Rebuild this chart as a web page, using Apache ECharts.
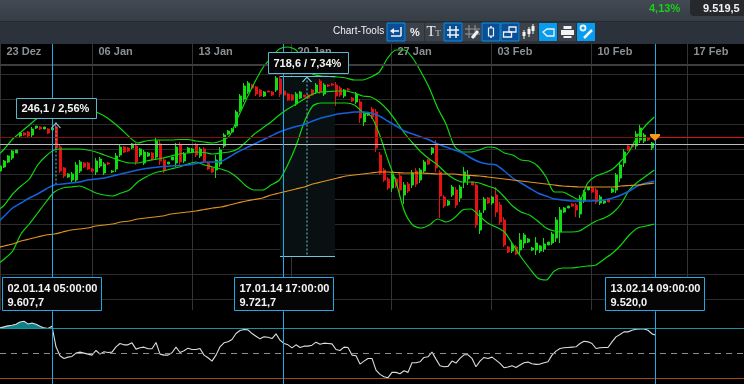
<!DOCTYPE html>
<html>
<head>
<meta charset="utf-8">
<style>html,body{margin:0;padding:0;background:#000}#main{width:744px;height:384px}</style>
<script src="https://cdn.jsdelivr.net/npm/echarts@6/dist/echarts.min.js"></script>
</head>
<body>
<div id="main"></div>
<script>
// x axis unit: trading days from the left edge of the window
const barDays = 0.2;
const lineStartDay = -0.2;
const lineStepDays = 5 / 12;
const weekDays = [0.025, 4.625, 9.625, 14.575, 19.575, 24.575, 29.575, 34.375];
const weekLabels = ['23 Dez', '06 Jan', '13 Jan', '20 Jan', '27 Jan', '03 Feb', '10 Feb', '17 Feb'];
const gridPrices = [8900, 9000, 9100, 9200, 9300, 9400, 9500, 9600, 9700, 9800];
const cursorDays = [2.6, 14.15, 32.75];

const opens = [9414,9430,9450,9466,9486,9554,9566,9570,9558,9586,
  9590,9582,9582,9578,9590,9510,9426,9390,9378,9378,
  9414,9446,9446,9422,9410,9434,9406,9446,9410,9422,
  9478,9510,9506,9506,9514,9478,9446,9474,9486,9470,
  9522,9458,9442,9458,9446,9518,9454,9490,9490,9518,
  9474,9502,9446,9426,9418,9442,9514,9562,9570,9594,
  9658,9702,9730,9758,9750,9738,9714,9734,9730,9738,
  9782,9734,9722,9718,9682,9706,9718,9718,9738,9730,
  9774,9722,9758,9762,9758,9746,9714,9742,9706,9690,
  9690,9610,9638,9662,9650,9478,9418,9382,9346,9382,
  9394,9318,9362,9358,9414,9378,9414,9458,9486,9518,
  9410,9310,9278,9318,9338,9306,9370,9382,9370,9358,
  9178,9258,9306,9286,9318,9278,9218,9110,9094,9110,
  9098,9126,9130,9098,9098,9094,9102,9118,9126,9146,
  9170,9250,9266,9282,9278,9242,9294,9338,9346,9338,
  9286,9286,9302,9330,9338,9386,9446,9514,9518,9514,
  9538,9534,9546,9506];
const closes = [9434,9454,9474,9494,9498,9566,9558,9554,9582,9594,
  9582,9590,9566,9586,9506,9414,9394,9402,9402,9438,
  9450,9430,9422,9414,9454,9462,9442,9442,9414,9474,
  9510,9490,9494,9522,9450,9502,9490,9486,9462,9534,
  9454,9414,9450,9470,9510,9450,9482,9506,9502,9478,
  9502,9454,9422,9410,9458,9498,9558,9574,9582,9650,
  9714,9754,9766,9746,9722,9714,9730,9730,9718,9786,
  9722,9718,9698,9698,9722,9730,9710,9706,9718,9758,
  9730,9758,9754,9758,9714,9718,9738,9738,9694,9722,
  9626,9642,9646,9630,9506,9406,9378,9346,9398,9354,
  9338,9358,9334,9406,9362,9418,9450,9442,9506,9426,
  9314,9274,9294,9350,9278,9350,9410,9394,9358,9198,
  9246,9302,9286,9310,9250,9210,9118,9090,9118,9082,
  9138,9158,9142,9106,9126,9114,9122,9130,9162,9218,
  9258,9266,9274,9274,9258,9306,9330,9350,9330,9290,
  9310,9294,9290,9342,9398,9438,9490,9498,9510,9562,
  9586,9558,9538,9526];
const lows = [9410,9426,9446,9458,9486,9550,9554,9550,9550,9582,
  9578,9582,9562,9578,9498,9406,9386,9386,9370,9370,
  9406,9426,9418,9410,9398,9426,9398,9438,9406,9410,
  9470,9486,9490,9502,9438,9470,9438,9470,9458,9458,
  9438,9406,9442,9458,9430,9438,9446,9486,9486,9470,
  9466,9446,9418,9406,9386,9430,9506,9558,9566,9586,
  9650,9690,9722,9742,9714,9710,9710,9730,9714,9730,
  9710,9714,9694,9694,9674,9702,9710,9702,9714,9722,
  9722,9714,9750,9754,9674,9710,9706,9734,9690,9682,
  9606,9594,9634,9622,9490,9398,9370,9338,9330,9346,
  9310,9282,9326,9346,9350,9366,9406,9438,9478,9410,
  9226,9266,9274,9310,9266,9290,9346,9358,9358,9186,
  9162,9246,9282,9278,9230,9198,9110,9086,9086,9078,
  9078,9106,9126,9094,9078,9086,9090,9118,9118,9130,
  9126,9246,9266,9270,9230,9226,9286,9338,9326,9282,
  9278,9282,9290,9326,9326,9370,9430,9494,9506,9502,
  9526,9526,9534,9498];
const highs = [9438,9458,9478,9498,9498,9570,9570,9574,9590,9594,
  9594,9590,9586,9586,9602,9518,9430,9406,9410,9450,
  9458,9450,9450,9426,9466,9470,9450,9450,9418,9486,
  9518,9514,9510,9526,9526,9506,9498,9490,9490,9546,
  9538,9466,9450,9470,9526,9530,9490,9510,9506,9526,
  9510,9510,9450,9430,9478,9510,9566,9578,9586,9658,
  9722,9766,9774,9762,9754,9742,9734,9734,9734,9794,
  9794,9738,9726,9722,9730,9734,9718,9722,9742,9766,
  9782,9766,9762,9766,9770,9754,9742,9746,9710,9730,
  9702,9650,9650,9670,9662,9490,9426,9390,9410,9390,
  9406,9370,9370,9418,9426,9426,9458,9462,9510,9538,
  9418,9318,9298,9358,9350,9358,9430,9418,9370,9366,
  9258,9310,9310,9314,9350,9290,9230,9114,9126,9118,
  9166,9166,9146,9110,9150,9118,9146,9130,9170,9230,
  9270,9270,9274,9286,9286,9318,9338,9350,9350,9346,
  9318,9298,9302,9346,9406,9450,9502,9518,9522,9574,
  9598,9566,9550,9530];

const bandUpper = [9470,9502,9542,9570,9598,9626,9646,9658,9666,9666,
  9666,9662,9650,9634,9610,9582,9550,9526,9534,9538,
  9538,9538,9540,9540,9534,9530,9526,9534,9554,9626,
  9698,9766,9826,9866,9902,9910,9898,9850,9802,9794,
  9792,9790,9786,9778,9778,9790,9810,9866,9898,9898,
  9866,9810,9746,9666,9602,9514,9490,9490,9498,9510,
  9506,9486,9478,9458,9454,9434,9390,9330,9330,9314,
  9298,9366,9394,9406,9422,9454,9494,9554,9598,9630];
const bandMiddle = [9250,9278,9322,9354,9382,9438,9474,9498,9502,9502,
  9502,9498,9490,9478,9466,9454,9446,9446,9454,9460,
  9466,9474,9482,9486,9490,9488,9482,9486,9490,9502,
  9530,9562,9586,9610,9638,9662,9682,9702,9722,9730,
  9732,9734,9734,9726,9714,9710,9690,9658,9614,9566,
  9526,9490,9462,9438,9406,9382,9370,9370,9366,9354,
  9342,9310,9274,9250,9238,9214,9186,9174,9170,9170,
  9174,9194,9214,9226,9246,9282,9338,9370,9394,9418];
const bandLower = [9038,9062,9094,9162,9202,9246,9290,9330,9346,9350,
  9354,9342,9326,9318,9314,9326,9338,9370,9390,9406,
  9414,9422,9430,9442,9450,9438,9430,9422,9410,9386,
  9354,9338,9338,9358,9378,9438,9514,9610,9674,9686,
  9686,9686,9686,9678,9650,9634,9562,9462,9370,9254,
  9198,9186,9198,9222,9210,9226,9258,9262,9234,9206,
  9190,9170,9122,9070,9026,8986,8978,9014,9026,9026,
  9030,9034,9038,9062,9086,9118,9158,9186,9194,9202];
const maBlue = [9202,9234,9266,9286,9306,9322,9342,9358,9362,9366,
  9370,9378,9382,9386,9394,9402,9410,9418,9424,9428,
  9432,9434,9436,9438,9444,9450,9450,9452,9470,9490,
  9506,9522,9538,9554,9570,9582,9592,9600,9614,9626,
  9634,9642,9646,9650,9650,9646,9634,9614,9594,9574,
  9562,9550,9538,9522,9510,9498,9486,9466,9450,9442,
  9438,9414,9386,9366,9346,9326,9314,9302,9298,9294,
  9294,9294,9296,9298,9306,9318,9334,9354,9366,9374];
const maOrange = [9106,9114,9122,9134,9142,9150,9158,9162,9170,9178,
  9182,9186,9194,9198,9202,9210,9214,9222,9226,9230,
  9234,9242,9246,9250,9254,9260,9266,9270,9278,9286,
  9294,9300,9306,9318,9326,9334,9342,9350,9362,9370,
  9378,9386,9394,9398,9402,9406,9410,9410,9408,9406,
  9406,9406,9404,9402,9402,9402,9398,9396,9394,9390,
  9386,9382,9378,9374,9370,9366,9362,9358,9354,9352,
  9350,9350,9350,9350,9350,9354,9356,9358,9362,9366];

const oscillator = [80.4,81.6,82.8,83.6,84.8,87.6,88.4,85.2,86.4,84.8,
  82.4,80.4,79.6,82.4,57.6,46.8,43.6,45.2,46,50,
  51.2,50,48.8,47.6,53.2,48.8,51.6,50.8,51.2,57.6,
  61.6,60,60,62.4,54.8,56.4,57.2,55.2,55.2,62.8,
  48.8,47.6,47.6,50.4,57.2,50.8,52.8,56,54.4,54.4,
  55.6,47.6,44.4,40.4,47.6,57.6,62.4,63.6,66.4,73.6,
  77.2,78.4,78,73.6,70.4,67.2,69.6,69.2,67.6,73.2,
  65.6,61.6,60,56.4,60,56.8,58.4,58.4,59.6,63.2,
  60.8,62,61.6,61.2,54.4,53.2,57.2,56.8,47.6,46.8,
  36.8,40.4,43.6,43.6,29.6,24.4,21.6,20.4,26.8,26.8,
  25.2,28.8,26.8,38.4,38.4,39.6,44.8,45.6,51.2,42.8,
  34.8,33.6,34,40.4,38,43.6,48,48,43.6,33.6,
  40.4,44.8,43.6,45.2,41.6,37.6,32.4,33.2,34.8,32.8,
  35.6,38.4,39.2,37.2,36.4,36.8,38.4,39.6,47.6,52.4,
  55.6,56.4,56.8,57.2,57.6,61.6,64.4,63.6,61.6,55.6,
  56.4,56.8,56.8,63.6,69.6,72.4,75.6,75.6,77.6,78.8,
  79.2,79.2,77.6,73.2,71.6];

const oscLevels = [80, 50, 20];
const lastPrice = 9548;
const closeLine = 9522;
const topRule = 9838;
const measureLeft = { day: 2.8, top: 9607.7, bottom: 9361.6 };
const measureMid = { startDay: 14, endDay: 16.75, markDay: 15.35, top: 9792, bottom: 9073.4 };

const GREEN = '#12dc12';
const RED = '#e61212';
const CYAN = '#24a8e4';
const candleData = opens.map((o, i) => [o, closes[i], lows[i], highs[i]]);
const candleDays = opens.map((o, i) => +(i * barDays).toFixed(2));
const lineData = arr => arr.map((v, k) => [lineStartDay + k * lineStepDays, v]);
const oscData = oscillator.map((v, i) => [i * barDays, v]);
const oscAbove = oscillator.map((v, i) => [i * barDays, v > 80 ? v : null]);

function bandSeries(name, arr, color, width) {
  return {
    name: name,
    type: 'line',
    data: lineData(arr),
    smooth: 0.25,
    symbol: 'none',
    z: 4,
    lineStyle: { color: color, width: width },
    emphasis: { disabled: true }
  };
}

function cursorMarks() {
  return {
    silent: true,
    symbol: 'none',
    label: { show: false },
    lineStyle: { color: CYAN, width: 1, type: 'solid' },
    data: cursorDays.map(d => ({ xAxis: d }))
  };
}

// toolbar drawing
const btnY = 23, btnH = 18, btnW = 18;
function button(x, state) {
  const fill = { off: '#3c424a', dark: '#0a4f95', on: '#069cf0' }[state];
  const items = [{
    type: 'rect',
    shape: { x: x, y: btnY, width: btnW, height: btnH },
    style: { fill: fill, stroke: state === 'dark' ? '#0c90e0' : null, lineWidth: 1 }
  }];
  return items;
}
function wline(x1, y1, x2, y2, w) {
  return { type: 'line', shape: { x1: x1, y1: y1, x2: x2, y2: y2 }, style: { stroke: '#f2f2f2', lineWidth: w || 1.5 } };
}
function wrect(x, y, width, height, filled) {
  return { type: 'rect', shape: { x: x, y: y, width: width, height: height },
    style: filled ? { fill: '#f2f2f2' } : { fill: 'transparent', stroke: '#f2f2f2', lineWidth: 1.3 } };
}
function txt(x, y, text, font, fill, extra) {
  return { type: 'text', x: x, y: y, style: Object.assign({ text: text, font: font, fill: fill, textVerticalAlign: 'middle' }, extra || {}) };
}

const toolbar = [].concat(
  button(387, 'dark'),
  [wline(391, 36, 401, 36), wline(401, 27, 401, 36), wline(392, 31, 399, 31),
    { type: 'polygon', shape: { points: [[390, 31], [394, 28], [394, 34]] }, style: { fill: '#f2f2f2' } }],
  button(406, 'off'),
  [txt(415, 33, '%', 'bold 11px "Liberation Sans"', '#f2f2f2', { textAlign: 'center' })],
  button(425, 'off'),
  [txt(431, 32, 'T', '15px "Liberation Serif"', '#f0f0f0', { textAlign: 'center' }),
    txt(438, 34, 'T', '9px "Liberation Serif"', '#c8c8c8', { textAlign: 'center' })],
  button(444, 'dark'),
  [wline(450, 26, 450, 38), wline(456, 26, 456, 38), wline(447, 30, 459, 30), wline(447, 35, 459, 35)],
  button(463, 'off'),
  [{ type: 'line', shape: { x1: 469, y1: 25, x2: 469, y2: 38 }, style: { stroke: '#999', lineWidth: 1 } },
    { type: 'line', shape: { x1: 475, y1: 25, x2: 475, y2: 38 }, style: { stroke: '#999', lineWidth: 1 } },
    { type: 'line', shape: { x1: 465, y1: 29, x2: 480, y2: 29 }, style: { stroke: '#999', lineWidth: 1 } },
    { type: 'line', shape: { x1: 465, y1: 34, x2: 480, y2: 34 }, style: { stroke: '#999', lineWidth: 1 } },
    wline(472, 38, 478, 31, 3)],
  button(482, 'dark'),
  [wline(491, 26, 491, 38), { type: 'rect', shape: { x: 488.5, y: 28, width: 5, height: 8 }, style: { fill: '#0a4f95', stroke: '#f2f2f2', lineWidth: 1.2 } }],
  button(501, 'dark'),
  [wrect(503.5, 32, 8, 5), wrect(509, 27, 7, 5)],
  button(520, 'off'),
  [wline(524, 30, 524, 39, 1), wrect(522.5, 32, 3, 4, true), wline(529, 27, 529, 37, 1), wrect(527.5, 29, 3, 5, true), wline(533, 24, 533, 34, 1), wrect(531.5, 26, 3, 5, true)],
  button(539, 'on'),
  [{ type: 'polygon', shape: { points: [[543, 32], [547, 29], [554, 29], [554, 36], [547, 36]] }, style: { fill: 'transparent', stroke: '#f2f2f2', lineWidth: 1.3 } }],
  button(558, 'off'),
  [wrect(563.5, 26, 8, 3, true), wrect(561, 30, 13, 5, true), wrect(563.5, 36, 8, 2, true)],
  button(577, 'on'),
  [{ type: 'circle', shape: { cx: 583, cy: 28, r: 2.5 }, style: { fill: 'transparent', stroke: '#f2f2f2', lineWidth: 1.8 } },
    wline(584, 38, 592, 30, 2.5)]
);

function infoBox(x, y, w, h, stroke, lines) {
  const out = [{ type: 'rect', shape: { x: x + 0.5, y: y + 0.5, width: w, height: h }, style: { fill: '#050505', stroke: stroke, lineWidth: 1 } }];
  lines.forEach((t, i) => {
    out.push(txt(x + 5.5, y + (lines.length === 1 ? h / 2 + 1 : 11.5 + i * 14), t, 'bold 11px "Liberation Sans"', '#f4f4f4'));
  });
  return out;
}

const graphics = [].concat(
  [{ type: 'rect', shape: { x: 0, y: 0, width: 744, height: 22 },
      style: { fill: new echarts.graphic.LinearGradient(0, 0, 0, 1, [{ offset: 0, color: '#444a53' }, { offset: 1, color: '#363c44' }]) } },
    { type: 'rect', shape: { x: 0, y: 22, width: 744, height: 22 }, style: { fill: '#2c323b' } },
    { type: 'rect', shape: { x: 0, y: 21, width: 744, height: 1 }, style: { fill: '#262b32' } },
    { type: 'rect', shape: { x: 690, y: 0, width: 54, height: 16, r: [0, 0, 0, 4] }, style: { fill: '#26282b' } },
    txt(649, 9, '4,13%', 'bold 11px "Liberation Sans"', '#18d018'),
    txt(703, 9, '9.519,5', 'bold 11px "Liberation Sans"', '#f2f2f2'),
    txt(333, 31, 'Chart-Tools', '10px "Liberation Sans"', '#f2f2f2')],
  toolbar,
  infoBox(16, 98, 80, 20, '#58b8d0', ['246,1 / 2,56%']),
  infoBox(268, 52, 80, 21, '#58b8d0', ['718,6 / 7,34%']),
  infoBox(2, 277, 99, 33, CYAN, ['02.01.14 05:00:00', '9.607,7']),
  infoBox(234, 277, 99, 33, CYAN, ['17.01.14 17:00:00', '9.721,7']),
  infoBox(605, 277, 99, 33, CYAN, ['13.02.14 09:00:00', '9.520,0'])
).map(el => Object.assign({ z: 100 }, el));

const chart = echarts.init(document.getElementById('main'), null, { renderer: 'canvas' });
chart.setOption({
  animation: false,
  backgroundColor: '#000',
  grid: [
    { left: 0, right: 0, top: 44, height: 266 },
    { left: 0, right: 0, top: 311.3, height: 73 }
  ],
  xAxis: [
    {
      type: 'value', gridIndex: 0, min: 0, max: 37.2, position: 'top',
      axisLine: { show: false },
      axisTick: { show: false, customValues: weekDays },
      splitLine: { show: true, lineStyle: { color: '#343434', width: 1 } },
      axisLabel: {
        show: true, inside: true, customValues: weekDays, margin: 2,
        align: 'left', verticalAlign: 'top', padding: [0, 0, 0, 6],
        color: '#8b9095', fontFamily: 'Liberation Sans', fontWeight: 'bold', fontSize: 11,
        formatter: v => weekLabels[weekDays.indexOf(v)]
      }
    },
    { type: 'value', gridIndex: 1, min: 0, max: 37.2, show: false, splitLine: { show: false } }
  ],
  yAxis: [
    {
      type: 'value', gridIndex: 0, min: 8858, max: 9922,
      axisLine: { show: false }, axisLabel: { show: false },
      axisTick: { show: false, customValues: gridPrices },
      splitLine: { show: true, lineStyle: { color: '#2c2c2c', width: 1 } }
    },
    {
      type: 'value', gridIndex: 1, min: 12.8, max: 100.4, show: false,
      splitLine: { show: false }
    }
  ],
  graphic: { elements: graphics },
  series: [
    // reference lines and the measuring tool, below everything else
    {
      type: 'line', data: [], z: 1, silent: true,
      markArea: {
        silent: true,
        itemStyle: { color: '#081011', opacity: 1 },
        data: [[{ xAxis: measureMid.startDay, yAxis: measureMid.top }, { xAxis: measureMid.endDay, yAxis: measureMid.bottom }]]
      },
      markLine: {
        silent: true, symbol: 'none', label: { show: false }, animation: false,
        data: [
          { yAxis: topRule, lineStyle: { color: '#3e3e3e', width: 2, type: 'solid' } },
          { yAxis: closeLine, lineStyle: { color: '#bcbcbc', width: 1, type: 'solid' } },
          [{ coord: [0, lastPrice], lineStyle: { color: '#7c1212', width: 1, type: 'solid' } }, { coord: [cursorDays[2], lastPrice] }],
          [{ coord: [cursorDays[2], lastPrice], lineStyle: { color: '#e01010', width: 1, type: 'solid' } }, { coord: [37.2, lastPrice] }],
          [{ coord: [measureMid.startDay, measureMid.top], lineStyle: { color: '#6fc4d6', width: 1, type: 'solid' } }, { coord: [measureMid.endDay, measureMid.top] }],
          [{ coord: [measureMid.startDay, measureMid.bottom], lineStyle: { color: '#6fc4d6', width: 1, type: 'solid' } }, { coord: [measureMid.endDay, measureMid.bottom] }]
        ]
      }
    },
    {
      type: 'candlestick', xAxisIndex: 0, yAxisIndex: 0, z: 3,
      data: candleData.map((c, i) => [candleDays[i]].concat(c)),
      encode: { x: 0, y: [1, 2, 3, 4] },
      barWidth: 2.5,
      itemStyle: { color: GREEN, color0: RED, borderColor: GREEN, borderColor0: RED, borderWidth: 1 }
    },
    bandSeries('upper', bandUpper, '#0ed80e', 1.2),
    bandSeries('middle', bandMiddle, '#0ed80e', 1.2),
    bandSeries('lower', bandLower, '#0ed80e', 1.2),
    bandSeries('blue', maBlue, '#1262dc', 1.5),
    bandSeries('orange', maOrange, '#e09422', 1.2),
    // measuring arrows
    {
      type: 'line', z: 5, symbol: 'none', silent: true,
      data: [[measureLeft.day, measureLeft.top], [measureLeft.day, measureLeft.bottom]],
      lineStyle: { color: '#5aa9b8', width: 1.2, type: [2, 2] }
    },
    {
      type: 'line', z: 5, symbol: 'none', silent: true,
      data: [[measureMid.markDay, measureMid.top], [measureMid.markDay, measureMid.bottom]],
      lineStyle: { color: '#5aa9b8', width: 1.2, type: [2, 2] }
    },
    {
      type: 'scatter', z: 6, silent: true, symbol: 'path://M0 6L5 0L10 6', symbolSize: [9, 5],
      symbolOffset: [0, 3],
      itemStyle: { color: 'transparent', borderColor: '#7fc6d4', borderWidth: 1, opacity: 1 },
      data: [[measureLeft.day, measureLeft.top], [measureMid.markDay, measureMid.top]]
    },
    // last price flag
    {
      type: 'scatter', z: 7, silent: true, symbol: 'path://M0 0H10V2L5 7L0 2Z', symbolSize: [10, 7],
      itemStyle: { color: '#f59b1c', opacity: 1 },
      data: [[cursorDays[2], lastPrice]]
    },
    // cursor lines, one per grid
    {
      type: 'line', data: [], xAxisIndex: 0, yAxisIndex: 0, z: 6, silent: true, markLine: cursorMarks()
    },
    // oscillator
    {
      type: 'line', xAxisIndex: 1, yAxisIndex: 1, z: 2, symbol: 'none', data: oscAbove, connectNulls: false,
      lineStyle: { width: 0 }, areaStyle: { color: '#0f8088', origin: 80, opacity: 1 }
    },
    {
      type: 'line', xAxisIndex: 1, yAxisIndex: 1, z: 3, symbol: 'none', data: oscData,
      lineStyle: { color: '#dcdcdc', width: 1.1 },
      markLine: {
        silent: true, symbol: 'none', label: { show: false },
        data: [
          { yAxis: oscLevels[0], lineStyle: { color: '#11959e', width: 1, type: 'solid' } },
          { yAxis: oscLevels[1], lineStyle: { color: '#8c8c8c', width: 1, type: [6, 5] } },
          { yAxis: oscLevels[2], lineStyle: { color: '#a04a12', width: 1, type: 'solid' } }
        ]
      }
    },
    {
      type: 'line', data: [], xAxisIndex: 1, yAxisIndex: 1, z: 6, silent: true, markLine: cursorMarks()
    }
  ]
});
</script>
</body>
</html>
